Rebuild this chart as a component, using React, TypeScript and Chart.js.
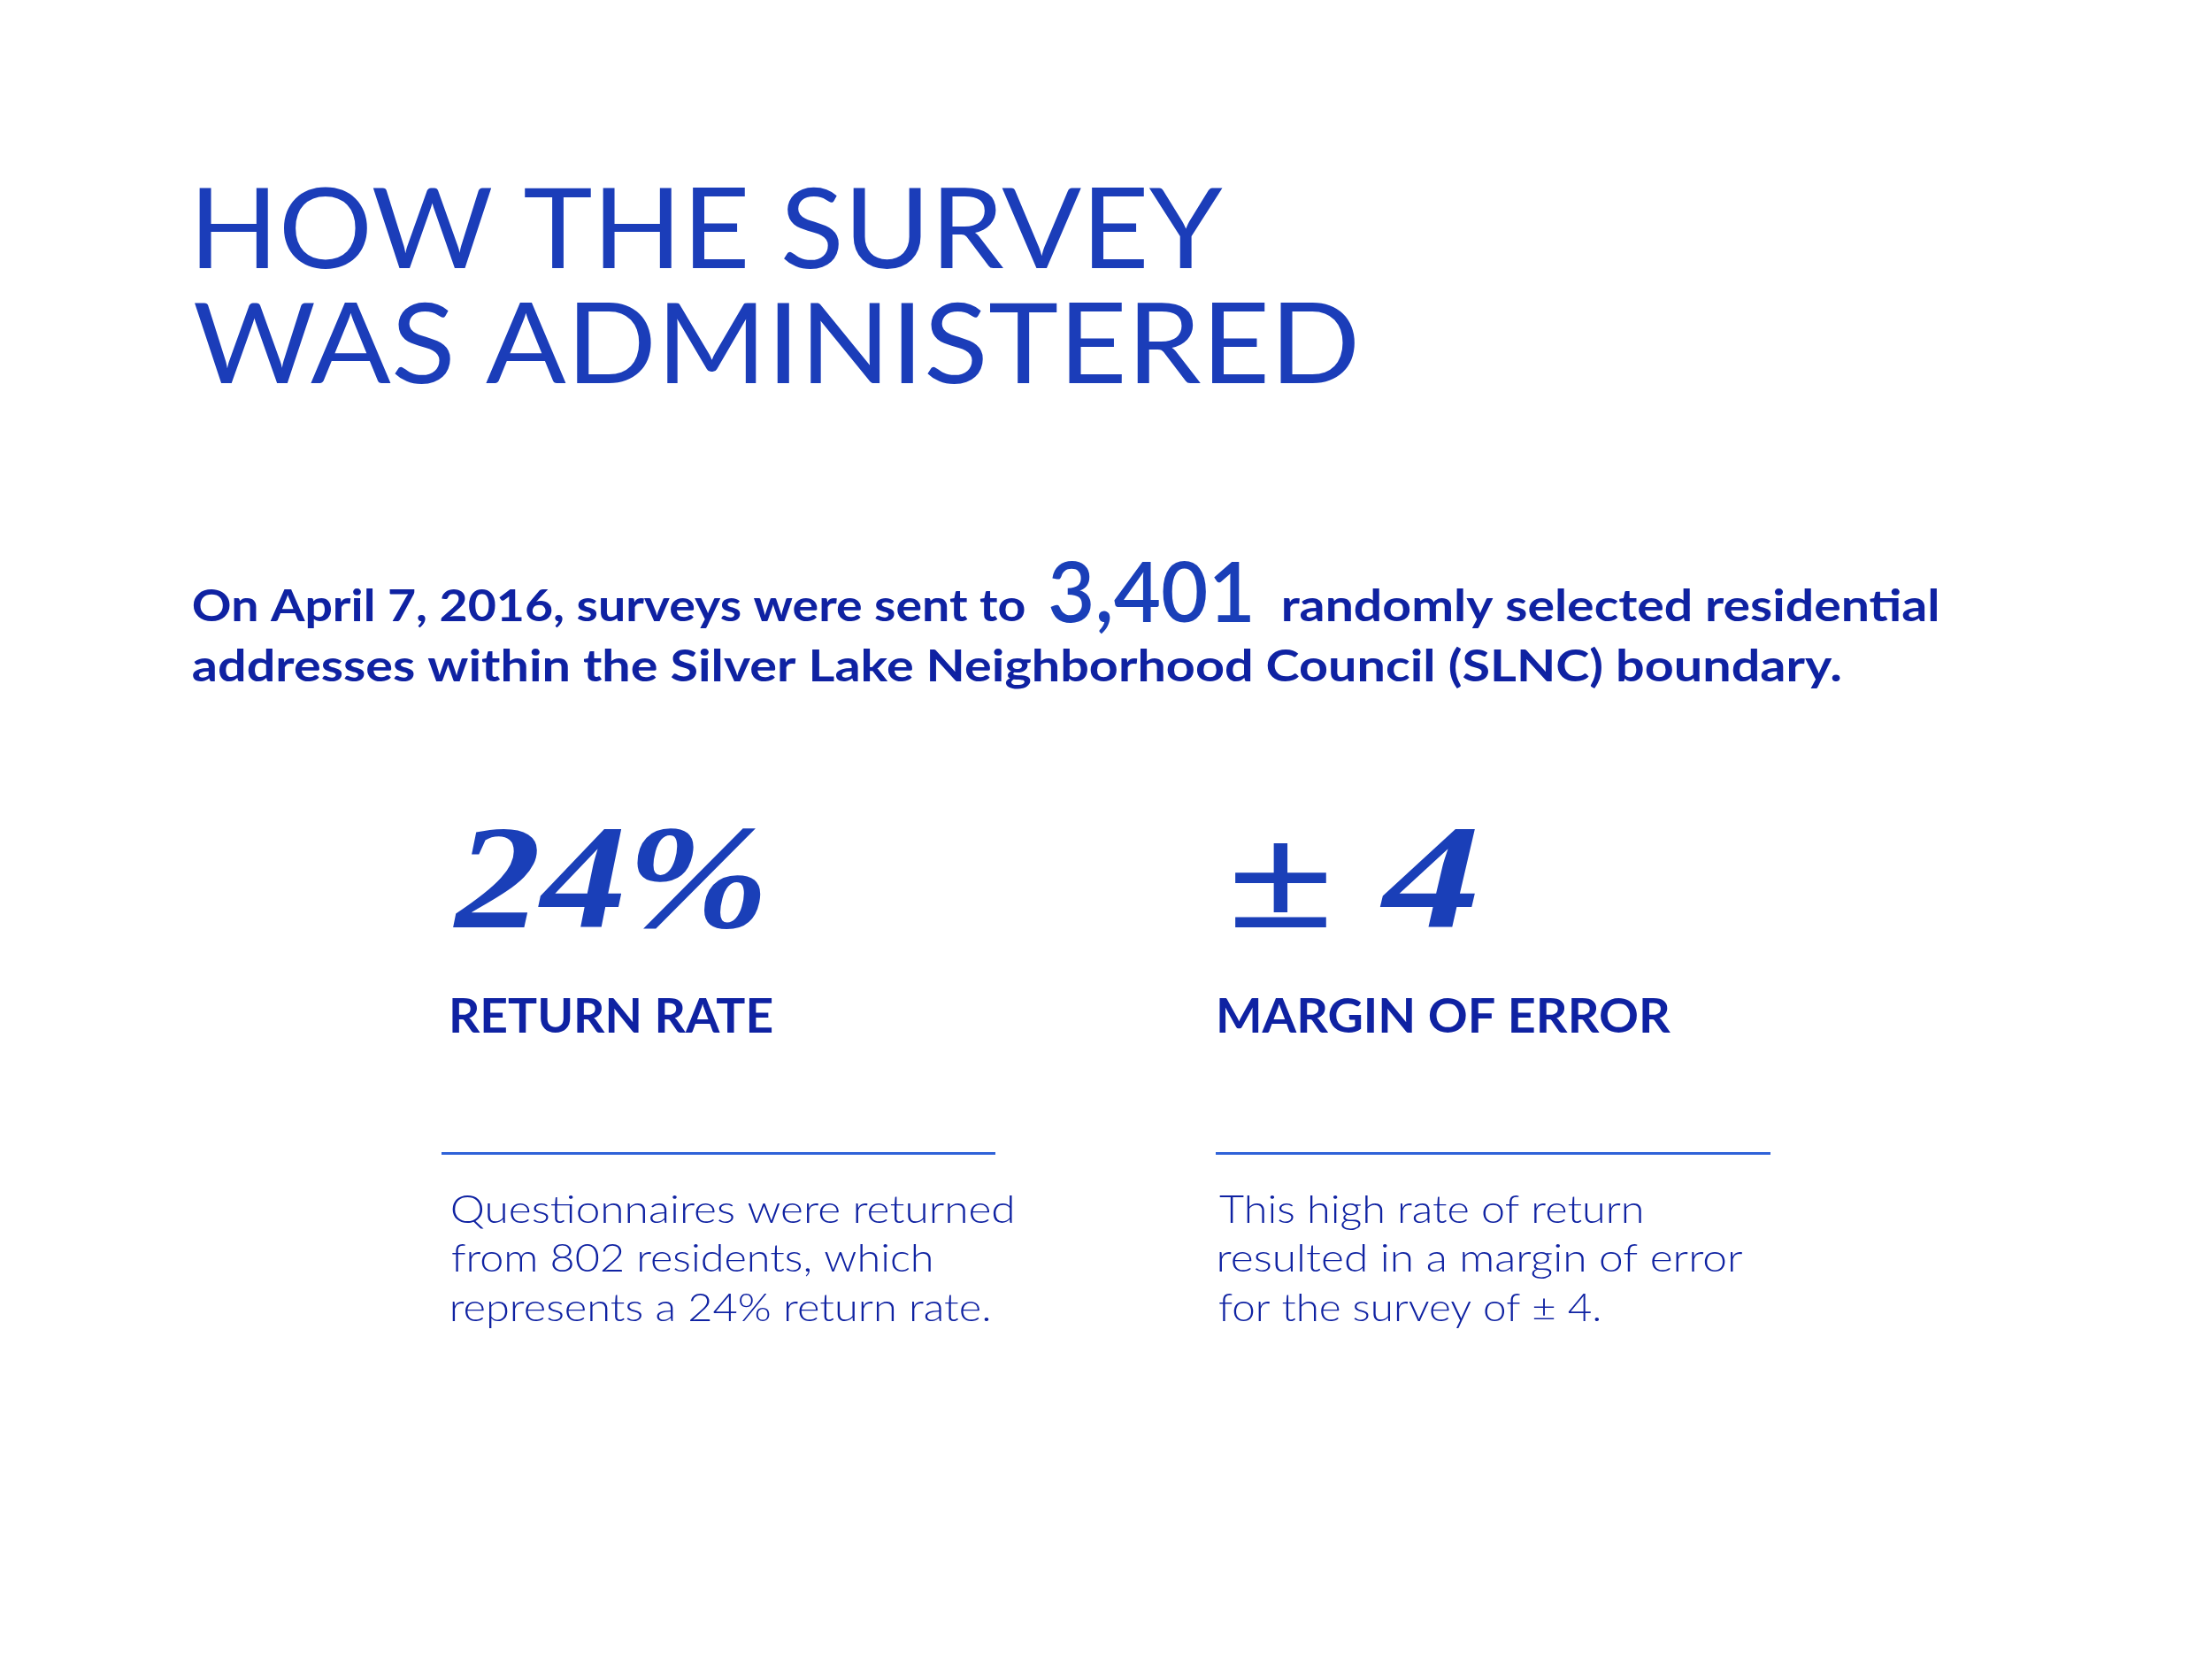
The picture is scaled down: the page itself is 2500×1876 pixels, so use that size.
import React, { useEffect, useRef } from "react";
import { Chart, registerables } from "chart.js";

Chart.register(...registerables);

// ---- content ----
const titleLines = ["HOW THE SURVEY", "WAS ADMINISTERED"];
const introBefore = "On April 7, 2016, surveys were sent to";
const surveysSent = "3,401";
const introAfter = "randomly selected residential";
const introLine2 = "addresses within the Silver Lake Neighborhood Council (SLNC) boundary.";
const statValues = ["24%", "± 4"];
const statLabels = ["RETURN RATE", "MARGIN OF ERROR"];
const statNotes = [
  ["Questionnaires were returned", "from 802 residents, which", "represents a 24% return rate."],
  ["This high rate of return", "resulted in a margin of error", "for the survey of ± 4."],
];

// ---- layout / style (not data) ----
const W = 2500;
const H = 1876;
const C_TITLE = "#1b3db9";
const C_TEXT = "#0f22a2";
const C_BIG = "#1a3fb8";
const C_RULE = "#2f62d8";

const SANS = "Lato, 'Open Sans', 'DejaVu Sans', sans-serif";
const SERIF = "'Liberation Serif', 'DejaVu Serif', serif";

// Draw text so that its inked extent starts at x and spans `width` pixels.
function drawFit(
  ctx: CanvasRenderingContext2D,
  text: string,
  font: string,
  color: string,
  x: number,
  baseline: number,
  width: number
) {
  ctx.save();
  ctx.font = font;
  ctx.fillStyle = color;
  ctx.textAlign = "left";
  ctx.textBaseline = "alphabetic";
  const m = ctx.measureText(text);
  const left = m.actualBoundingBoxLeft || 0;
  const right = m.actualBoundingBoxRight || m.width;
  const ink = left + right || 1;
  const sx = width / ink;
  ctx.translate(x + left * sx, baseline);
  ctx.scale(sx, 1);
  ctx.fillText(text, 0, 0);
  ctx.restore();
}

const infographicPlugin = {
  id: "infographic",
  beforeDraw(chart: any) {
    const ctx = chart.ctx as CanvasRenderingContext2D;
    ctx.save();
    ctx.fillStyle = "#ffffff";
    ctx.fillRect(0, 0, chart.width, chart.height);
    ctx.restore();
  },
  afterDraw(chart: any) {
    const ctx = chart.ctx as CanvasRenderingContext2D;

    // Title
    const titleFont = `400 126px ${SANS}`;
    drawFit(ctx, titleLines[0], titleFont, C_TITLE, 225, 303, 1157);
    drawFit(ctx, titleLines[1], titleFont, C_TITLE, 219, 433, 1312);

    // Intro paragraph
    const introFont = `700 49px ${SANS}`;
    drawFit(ctx, introBefore, introFont, C_TEXT, 218, 702, 940);
    drawFit(ctx, surveysSent, `600 95px ${SANS}`, C_BIG, 1187, 703, 226);
    drawFit(ctx, introAfter, introFont, C_TEXT, 1450, 702, 740);
    drawFit(ctx, introLine2, introFont, C_TEXT, 218, 770, 1862);

    // Stats
    const colX = [511, 1378];
    const valueX = [511, 1395];
    const valueW = [349, 272];
    const labelW = [361, 510];
    const ruleX = [[499, 1125], [1374, 2001]];
    const noteW = [
      [633, 541, 607],
      [477, 591, 430],
    ];
    const noteBase = [1382, 1437, 1493];
    for (let i = 0; i < statValues.length; i++) {
      drawFit(ctx, statValues[i], `italic 700 168px ${SERIF}`, C_BIG, valueX[i], 1048, valueW[i]);
      drawFit(ctx, statLabels[i], `700 54px ${SANS}`, C_TEXT, colX[i], 1167, labelW[i]);
      ctx.save();
      ctx.strokeStyle = C_RULE;
      ctx.lineWidth = 3;
      ctx.beginPath();
      ctx.moveTo(ruleX[i][0], 1303.5);
      ctx.lineTo(ruleX[i][1], 1303.5);
      ctx.stroke();
      ctx.restore();
      statNotes[i].forEach((line, j) => {
        drawFit(ctx, line, `300 44px ${SANS}`, C_TEXT, colX[i], noteBase[j], noteW[i][j]);
      });
    }
  },
};

export default function App() {
  const ref = useRef<HTMLCanvasElement | null>(null);
  useEffect(() => {
    document.body.style.margin = "0";
    const canvas = ref.current;
    if (!canvas) return;
    const chart = new Chart(canvas, {
      type: "bar",
      data: { labels: [], datasets: [] },
      options: {
        responsive: false,
        maintainAspectRatio: false,
        animation: false,
        devicePixelRatio: 1,
        layout: { padding: 0 },
        plugins: {
          legend: { display: false },
          tooltip: { enabled: false },
          title: { display: false },
        },
        scales: {
          x: { display: false },
          y: { display: false },
        },
      },
      plugins: [infographicPlugin],
    });
    return () => chart.destroy();
  }, []);
  return (
    <div style={{ position: "absolute", left: 0, top: 0, width: W, height: H, background: "#fff" }}>
      <canvas ref={ref} width={W} height={H} style={{ width: W, height: H, display: "block" }} />
    </div>
  );
}
